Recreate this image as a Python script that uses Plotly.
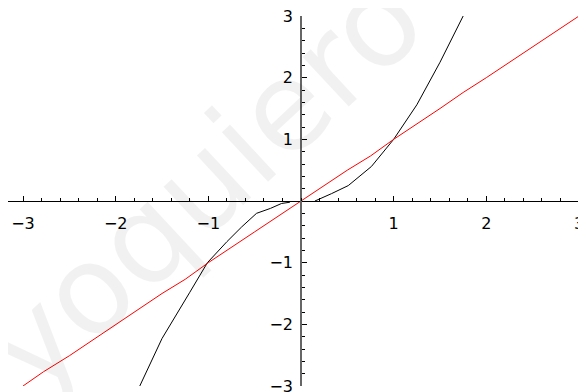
import plotly.graph_objects as go

# curve (black), two branches
black_left_x = [-1.74, -1.5, -1.2, -1.01, -0.8, -0.64, -0.48, -0.33, -0.21, -0.12]
black_left_y = [-3.0, -2.23, -1.48, -1.0, -0.66, -0.42, -0.2, -0.12, -0.04, -0.02]
black_right_x = [0.15, 0.2, 0.33, 0.51, 0.76, 1.0, 1.25, 1.5, 1.75]
black_right_y = [0.0, 0.03, 0.12, 0.25, 0.56, 1.0, 1.56, 2.25, 3.0]

# red line
red_x = [-3, -2.78, -2.5, -2, -1.5, -1.25, -1, -0.5, 0, 0.5, 0.75, 1, 1.5, 1.75, 2, 2.5, 3]
red_y = [-3, -2.77, -2.51, -2.0, -1.5, -1.27, -1.0, -0.5, 0, 0.5, 0.73, 1, 1.5, 1.76, 2, 2.5, 3]

tick_vals = [-3, -2, -1, 1, 2, 3]
tick_text = ['\u22123', '\u22122', '\u22121', '1', '2', '3']

x_range = [-3.162, 3.0755]
y_range = [-3, 3]

fig = go.Figure()
fig.add_trace(go.Scatter(x=black_left_x, y=black_left_y, mode='lines',
                         line=dict(color='black', width=1)))
fig.add_trace(go.Scatter(x=black_right_x, y=black_right_y, mode='lines',
                         line=dict(color='black', width=1)))
fig.add_trace(go.Scatter(x=red_x, y=red_y, mode='lines',
                         line=dict(color='#ff0000', width=1)))

# watermark
fig.add_annotation(x=-1.05, y=0.3, xref='x', yref='y',
                   text='yoquiero', showarrow=False, textangle=-43,
                   font=dict(family='DejaVu Sans', size=124, color='rgba(0,0,0,0.055)'))

# page body has an 8px margin, so the figure is 8px smaller than the window
fig.update_layout(
    width=578, height=384,
    margin=dict(l=0, r=0, t=8, b=6, autoexpand=False),
    paper_bgcolor='white', plot_bgcolor='white',
    showlegend=False,
    font=dict(family='DejaVu Sans', size=16, color='black'),
    xaxis=dict(
        range=x_range, anchor='free', position=0.5, automargin=False,
        showgrid=False, zeroline=False,
        showline=True, linecolor='black', linewidth=1,
        tickmode='array', tickvals=tick_vals, ticktext=tick_text,
        ticks='inside', ticklen=5, tickcolor='black', tickwidth=1,
        ticklabelstandoff=8, ticklabeloverflow='allow',
        minor=dict(ticks='inside', ticklen=3, dtick=0.2, tick0=0, tickcolor='black'),
    ),
    yaxis=dict(
        range=y_range, anchor='free', automargin=False,
        position=(0 - x_range[0]) / (x_range[1] - x_range[0]),
        showgrid=False, zeroline=False,
        showline=True, linecolor='#666666', linewidth=1.5,
        tickmode='array', tickvals=tick_vals, ticktext=tick_text,
        ticks='inside', ticklen=5, tickcolor='black', tickwidth=1,
        ticklabelstandoff=4, ticklabeloverflow='allow',
        minor=dict(ticks='inside', ticklen=3, dtick=0.2, tick0=0, tickcolor='black'),
    ),
)

fig.write_html("out.html")
